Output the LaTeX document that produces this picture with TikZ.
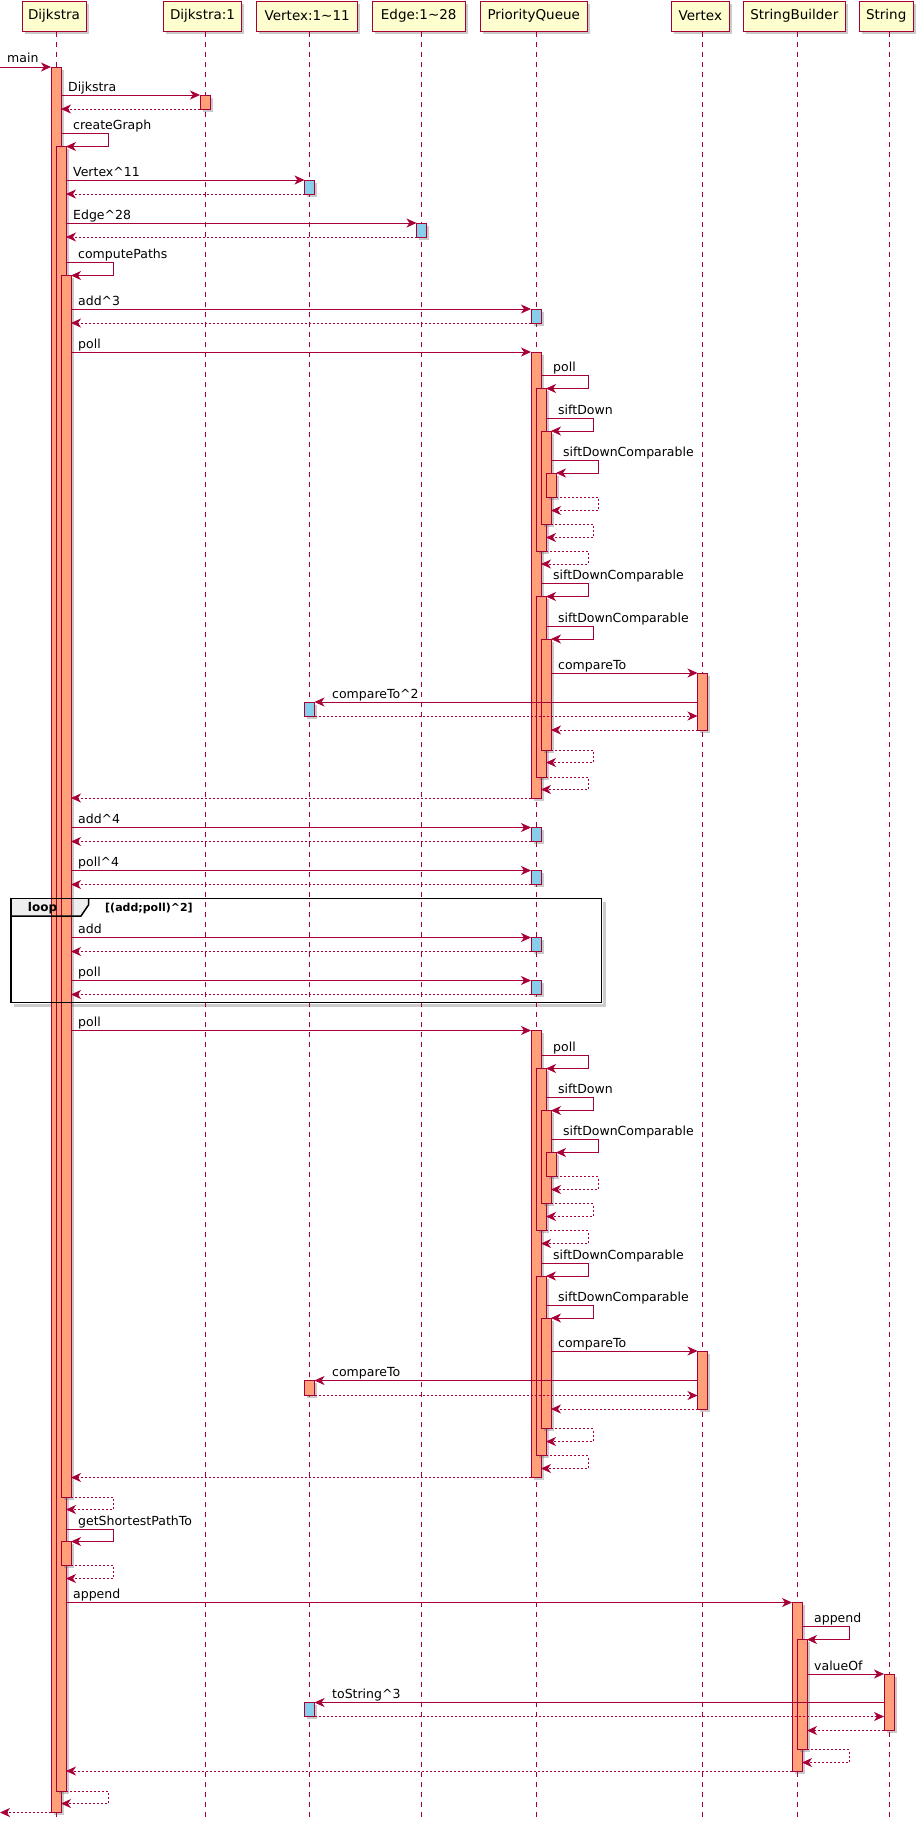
\documentclass[tikz,border=0pt]{standalone}
\usepackage{fontspec}
\setmainfont{DejaVu Sans}
\usetikzlibrary{arrows.meta,shadows}
\definecolor{pumlred}{HTML}{A80036}
\definecolor{cream}{HTML}{FEFECE}
\definecolor{salmon}{HTML}{FFA07A}
\definecolor{skyblue}{HTML}{87CEEB}
\definecolor{tabgray}{HTML}{EEEEEE}
\begin{document}
\begin{tikzpicture}[x=1pt,y=-1pt,
    shade/.style={drop shadow={shadow xshift=2.5pt,shadow yshift=-2.5pt,opacity=.35,fill=black!60}},
    hdr/.style={draw=pumlred,line width=1pt,fill=cream,minimum height=30pt,inner sep=0pt,shade,font=\fontsize{13.5}{16}\selectfont},
    life/.style={draw=pumlred,line width=.8pt,dash pattern=on 5pt off 5pt},
    bar/.style={draw=pumlred,line width=.8pt,fill=salmon,shade},
    rbar/.style={bar,fill=skyblue},
    msg/.style={draw=pumlred,line width=.8pt,-{Stealth[length=10pt,width=9pt,inset=3pt]}},
    ret/.style={msg,dash pattern=on 2pt off 2pt},
    lbl/.style={font=\fontsize{12.5}{15}\selectfont,inner sep=0pt,anchor=base west}]
    \useasboundingbox (0,0) rectangle (922,1821);

    \fill[tabgray] (11,898.5) -- (88.5,898.5) -- (88.5,905) -- (81,916) -- (11,916) -- cycle;
    \draw[black!20,line width=2.5pt] (604.5,902) -- (604.5,1005.5) -- (14,1005.5);

    \node[hdr,minimum width=64pt] (dij) at (54,16) {Dijkstra};
    \node[hdr,minimum width=78pt] (dijone) at (202.5,16) {Dijkstra:1};
    \node[hdr,minimum width=101pt] (vtxs) at (307.2,16) {Vertex:1\textasciitilde 11};
    \node[hdr,minimum width=93pt] (edges) at (418.7,16) {Edge:1\textasciitilde 28};
    \node[hdr,minimum width=107pt] (pq) at (533.7,16) {PriorityQueue};
    \node[hdr,minimum width=58pt] (vtx) at (700.3,16) {Vertex};
    \node[hdr,minimum width=102pt] (sb) at (794.3,16) {StringBuilder};
    \node[hdr,minimum width=54pt] (str) at (886.2,16) {String};

    \foreach \x in {56,205,309.5,421.5,536,702.5,797,889}
        \draw[life] (\x,31.5) -- (\x,1821);

    \draw[bar] (51,67) rectangle (61,1812.5);
    \draw[bar] (56,146.5) rectangle (66,1791);
    \draw[bar] (61,275.5) rectangle (71,1497);
    \draw[bar] (61,1541.5) rectangle (71,1565);
    \draw[bar] (200,95) rectangle (210,109);
    \draw[rbar] (304.5,180) rectangle (314.5,194);
    \draw[rbar] (304.5,702) rectangle (314.5,716);
    \draw[bar] (304.5,1380.5) rectangle (314.5,1395.5);
    \draw[rbar] (304.5,1702.5) rectangle (314.5,1716.5);
    \draw[rbar] (416.5,223) rectangle (426.5,237);
    \draw[rbar] (531,309) rectangle (541,323);
    \draw[bar] (531,352) rectangle (541,798);
    \draw[bar] (536,388.5) rectangle (546,551);
    \draw[bar] (541,431) rectangle (551,524);
    \draw[bar] (546,473) rectangle (556,497);
    \draw[bar] (536,596.5) rectangle (546,777);
    \draw[bar] (541,639) rectangle (551,750);
    \draw[rbar] (531,827.5) rectangle (541,841.5);
    \draw[rbar] (531,870.5) rectangle (541,884.5);
    \draw[rbar] (531,937.5) rectangle (541,951.5);
    \draw[rbar] (531,980.5) rectangle (541,994.5);
    \draw[bar] (531,1030.5) rectangle (541,1477.5);
    \draw[bar] (536,1068.5) rectangle (546,1230.5);
    \draw[bar] (541,1110.5) rectangle (551,1203.5);
    \draw[bar] (546,1152.5) rectangle (556,1176.5);
    \draw[bar] (536,1276) rectangle (546,1455.5);
    \draw[bar] (541,1318) rectangle (551,1428.5);
    \draw[bar] (697.5,673) rectangle (707.5,730);
    \draw[bar] (697.5,1351) rectangle (707.5,1409);
    \draw[bar] (792,1602.5) rectangle (802,1771);
    \draw[bar] (797,1639.5) rectangle (807,1749.5);
    \draw[bar] (884,1674) rectangle (894,1730.5);

    \draw[line width=1.5pt] (11,898.5) rectangle (601.5,1002.5);
    \draw[line width=1.5pt] (88.5,898.5) -- (88.5,905) -- (81,916) -- (11,916);
    \node[font=\bfseries\fontsize{12}{14}\selectfont,inner sep=0pt,anchor=base] (looptag) at (42.5,911) {loop};
    \node[font=\bfseries\fontsize{11}{13}\selectfont,inner sep=0pt,anchor=base west] (loopcond) at (105,911) {[(add;poll)\textasciicircum 2]};

    \draw[msg] (0,67) -- (51,67);
    \node[lbl] (tmain) at (7,62.5) {main};
    \draw[msg] (61,95) -- (200,95);
    \node[lbl] (tdijone) at (68,91) {Dijkstra};
    \draw[ret] (200,109) -- (61,109);
    \draw[msg] (61,133.5) -| (108,146.5) -- (66,146.5);
    \node[lbl] (tcreate) at (73,129.5) {createGraph};
    \draw[msg] (66,180) -- (304.5,180);
    \node[lbl] (tvtxs) at (73,176) {Vertex\textasciicircum 11};
    \draw[ret] (304.5,194) -- (66,194);
    \draw[msg] (66,223) -- (416.5,223);
    \node[lbl] (tedges) at (73,219) {Edge\textasciicircum 28};
    \draw[ret] (416.5,237) -- (66,237);
    \draw[msg] (66,262.5) -| (113,275.5) -- (71,275.5);
    \node[lbl] (tcompute) at (78,258.5) {computePaths};
    \draw[msg] (71,309) -- (531,309);
    \node[lbl] (taddthree) at (78,305) {add\textasciicircum 3};
    \draw[ret] (531,323) -- (71,323);

    \draw[msg] (71,352) -- (531,352);
    \node[lbl] (tpollone) at (78,348) {poll};
    \draw[msg] (541,375.5) -| (588,388.5) -- (546,388.5);
    \node[lbl] (tpolltwo) at (553,371.5) {poll};
    \draw[msg] (546,418) -| (593,431) -- (551,431);
    \node[lbl] (tsiftone) at (558,414) {siftDown};
    \draw[msg] (551,460) -| (598,473) -- (556,473);
    \node[lbl] (tsifttwo) at (563,456) {siftDownComparable};
    \draw[ret] (556,497) -| (598,510.5) -- (551,510.5);
    \draw[ret] (551,524) -| (593,537.5) -- (546,537.5);
    \draw[ret] (546,551) -| (588,564) -- (541,564);
    \draw[msg] (541,583.5) -| (588,596.5) -- (546,596.5);
    \node[lbl] (tsiftthree) at (553,579.5) {siftDownComparable};
    \draw[msg] (546,626) -| (593,639) -- (551,639);
    \node[lbl] (tsiftfour) at (558,622) {siftDownComparable};
    \draw[msg] (551,673) -- (697.5,673);
    \node[lbl] (tcmpone) at (558,669) {compareTo};
    \draw[msg] (697.5,702) -- (314.5,702);
    \node[lbl] (tcmptwo) at (332,698) {compareTo\textasciicircum 2};
    \draw[ret] (314.5,716) -- (697.5,716);
    \draw[ret] (697.5,730) -- (551,730);
    \draw[ret] (551,750) -| (593,762.5) -- (546,762.5);
    \draw[ret] (546,777) -| (588,789.5) -- (541,789.5);
    \draw[ret] (531,798) -- (71,798);

    \draw[msg] (71,827.5) -- (531,827.5);
    \node[lbl] (taddfour) at (78,823.5) {add\textasciicircum 4};
    \draw[ret] (531,841.5) -- (71,841.5);
    \draw[msg] (71,870.5) -- (531,870.5);
    \node[lbl] (tpollfour) at (78,866.5) {poll\textasciicircum 4};
    \draw[ret] (531,884.5) -- (71,884.5);
    \draw[msg] (71,937.5) -- (531,937.5);
    \node[lbl] (tloopadd) at (78,933.5) {add};
    \draw[ret] (531,951.5) -- (71,951.5);
    \draw[msg] (71,980.5) -- (531,980.5);
    \node[lbl] (tlooppoll) at (78,976.5) {poll};
    \draw[ret] (531,994.5) -- (71,994.5);

    \draw[msg] (71,1030.5) -- (531,1030.5);
    \node[lbl] (tpollthree) at (78,1026.5) {poll};
    \draw[msg] (541,1055.5) -| (588,1068.5) -- (546,1068.5);
    \node[lbl] (tpollfive) at (553,1051.5) {poll};
    \draw[msg] (546,1097.5) -| (593,1110.5) -- (551,1110.5);
    \node[lbl] (tsiftfive) at (558,1093.5) {siftDown};
    \draw[msg] (551,1139.5) -| (598,1152.5) -- (556,1152.5);
    \node[lbl] (tsiftsix) at (563,1135.5) {siftDownComparable};
    \draw[ret] (556,1176.5) -| (598,1189.5) -- (551,1189.5);
    \draw[ret] (551,1203.5) -| (593,1216.5) -- (546,1216.5);
    \draw[ret] (546,1230.5) -| (588,1243.5) -- (541,1243.5);
    \draw[msg] (541,1263) -| (588,1276) -- (546,1276);
    \node[lbl] (tsiftseven) at (553,1259) {siftDownComparable};
    \draw[msg] (546,1305) -| (593,1318) -- (551,1318);
    \node[lbl] (tsifteight) at (558,1301) {siftDownComparable};
    \draw[msg] (551,1351) -- (697.5,1351);
    \node[lbl] (tcmpthree) at (558,1347) {compareTo};
    \draw[msg] (697.5,1380.5) -- (314.5,1380.5);
    \node[lbl] (tcmpfour) at (332,1376.5) {compareTo};
    \draw[ret] (314.5,1395.5) -- (697.5,1395.5);
    \draw[ret] (697.5,1409) -- (551,1409);
    \draw[ret] (551,1428.5) -| (593,1441.5) -- (546,1441.5);
    \draw[ret] (546,1455.5) -| (588,1468.5) -- (541,1468.5);
    \draw[ret] (531,1477.5) -- (71,1477.5);

    \draw[ret] (71,1497) -| (113,1509.5) -- (66,1509.5);
    \draw[msg] (66,1529) -| (113,1541.5) -- (71,1541.5);
    \node[lbl] (tshortest) at (78,1525) {getShortestPathTo};
    \draw[ret] (71,1565) -| (113,1578.5) -- (66,1578.5);
    \draw[msg] (66,1602.5) -- (792,1602.5);
    \node[lbl] (tappendone) at (73,1598.5) {append};
    \draw[msg] (802,1626.5) -| (849,1639.5) -- (807,1639.5);
    \node[lbl] (tappendtwo) at (814,1622.5) {append};
    \draw[msg] (807,1674) -- (884,1674);
    \node[lbl] (tvalueof) at (814,1670) {valueOf};
    \draw[msg] (884,1702.5) -- (314.5,1702.5);
    \node[lbl] (ttostring) at (332,1698.5) {toString\textasciicircum 3};
    \draw[ret] (314.5,1716.5) -- (884,1716.5);
    \draw[ret] (884,1730.5) -- (807,1730.5);
    \draw[ret] (807,1749.5) -| (849,1762.5) -- (802,1762.5);
    \draw[ret] (792,1771) -- (66,1771);
    \draw[ret] (66,1791) -| (108,1803.5) -- (61,1803.5);
    \draw[ret] (51,1812.5) -- (0,1812.5);
\end{tikzpicture}
\end{document}
